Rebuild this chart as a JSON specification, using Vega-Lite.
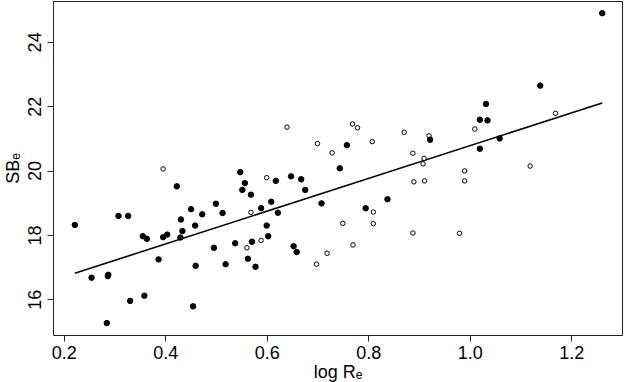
{
  "$schema": "https://vega.github.io/schema/vega-lite/v6.json",
  "width": 569,
  "height": 334,
  "autosize": "none",
  "padding": {"left": 53, "top": 1, "right": 2, "bottom": 47},
  "background": "white",
  "config": {
    "font": "Liberation Sans",
    "view": {"stroke": "#222", "strokeWidth": 1},
    "axis": {
      "grid": false,
      "domain": false,
      "tickColor": "#222",
      "tickSize": 6,
      "labelColor": "black",
      "titleColor": "black",
      "labelFontSize": 18,
      "titleFontSize": 18,
      "titleFontWeight": "normal"
    }
  },
  "datasets": {
    "pts": [
      {"logR": 0.222, "SB": 18.31, "type": "filled"},
      {"logR": 0.255, "SB": 16.67, "type": "filled"},
      {"logR": 0.287, "SB": 16.72, "type": "filled"},
      {"logR": 0.288, "SB": 16.76, "type": "filled"},
      {"logR": 0.285, "SB": 15.26, "type": "filled"},
      {"logR": 0.308, "SB": 18.59, "type": "filled"},
      {"logR": 0.327, "SB": 18.59, "type": "filled"},
      {"logR": 0.331, "SB": 15.95, "type": "filled"},
      {"logR": 0.356, "SB": 17.96, "type": "filled"},
      {"logR": 0.364, "SB": 17.88, "type": "filled"},
      {"logR": 0.359, "SB": 16.11, "type": "filled"},
      {"logR": 0.387, "SB": 17.24, "type": "filled"},
      {"logR": 0.396, "SB": 17.93, "type": "filled"},
      {"logR": 0.404, "SB": 18.01, "type": "filled"},
      {"logR": 0.396, "SB": 20.05, "type": "open"},
      {"logR": 0.423, "SB": 19.51, "type": "filled"},
      {"logR": 0.431, "SB": 18.48, "type": "filled"},
      {"logR": 0.430, "SB": 17.92, "type": "filled"},
      {"logR": 0.434, "SB": 18.12, "type": "filled"},
      {"logR": 0.451, "SB": 18.80, "type": "filled"},
      {"logR": 0.459, "SB": 18.29, "type": "filled"},
      {"logR": 0.460, "SB": 17.04, "type": "filled"},
      {"logR": 0.455, "SB": 15.78, "type": "filled"},
      {"logR": 0.473, "SB": 18.64, "type": "filled"},
      {"logR": 0.496, "SB": 17.60, "type": "filled"},
      {"logR": 0.500, "SB": 18.97, "type": "filled"},
      {"logR": 0.513, "SB": 18.68, "type": "filled"},
      {"logR": 0.519, "SB": 17.09, "type": "filled"},
      {"logR": 0.538, "SB": 17.74, "type": "filled"},
      {"logR": 0.548, "SB": 19.95, "type": "filled"},
      {"logR": 0.552, "SB": 19.40, "type": "filled"},
      {"logR": 0.557, "SB": 19.61, "type": "filled"},
      {"logR": 0.561, "SB": 17.60, "type": "open"},
      {"logR": 0.563, "SB": 17.26, "type": "filled"},
      {"logR": 0.569, "SB": 19.25, "type": "filled"},
      {"logR": 0.600, "SB": 19.78, "type": "open"},
      {"logR": 0.618, "SB": 19.68, "type": "filled"},
      {"logR": 0.569, "SB": 18.70, "type": "open"},
      {"logR": 0.589, "SB": 18.83, "type": "filled"},
      {"logR": 0.609, "SB": 19.03, "type": "filled"},
      {"logR": 0.622, "SB": 18.69, "type": "filled"},
      {"logR": 0.648, "SB": 19.82, "type": "filled"},
      {"logR": 0.668, "SB": 19.73, "type": "filled"},
      {"logR": 0.676, "SB": 19.40, "type": "filled"},
      {"logR": 0.640, "SB": 21.35, "type": "open"},
      {"logR": 0.700, "SB": 20.84, "type": "open"},
      {"logR": 0.729, "SB": 20.55, "type": "open"},
      {"logR": 0.758, "SB": 20.79, "type": "filled"},
      {"logR": 0.744, "SB": 20.07, "type": "filled"},
      {"logR": 0.708, "SB": 18.98, "type": "filled"},
      {"logR": 0.769, "SB": 21.45, "type": "open"},
      {"logR": 0.779, "SB": 21.33, "type": "open"},
      {"logR": 0.808, "SB": 20.90, "type": "open"},
      {"logR": 0.871, "SB": 21.19, "type": "open"},
      {"logR": 0.920, "SB": 21.08, "type": "open"},
      {"logR": 0.922, "SB": 20.96, "type": "filled"},
      {"logR": 0.888, "SB": 20.54, "type": "open"},
      {"logR": 0.910, "SB": 20.38, "type": "open"},
      {"logR": 0.908, "SB": 20.21, "type": "open"},
      {"logR": 0.890, "SB": 19.65, "type": "open"},
      {"logR": 0.911, "SB": 19.68, "type": "open"},
      {"logR": 0.838, "SB": 19.11, "type": "filled"},
      {"logR": 0.795, "SB": 18.83, "type": "filled"},
      {"logR": 0.810, "SB": 18.71, "type": "open"},
      {"logR": 0.810, "SB": 18.35, "type": "open"},
      {"logR": 0.750, "SB": 18.36, "type": "open"},
      {"logR": 0.888, "SB": 18.06, "type": "open"},
      {"logR": 0.600, "SB": 18.29, "type": "filled"},
      {"logR": 0.603, "SB": 17.96, "type": "filled"},
      {"logR": 0.571, "SB": 17.79, "type": "filled"},
      {"logR": 0.589, "SB": 17.83, "type": "open"},
      {"logR": 0.578, "SB": 17.01, "type": "filled"},
      {"logR": 0.653, "SB": 17.65, "type": "filled"},
      {"logR": 0.659, "SB": 17.47, "type": "filled"},
      {"logR": 0.698, "SB": 17.09, "type": "open"},
      {"logR": 0.719, "SB": 17.43, "type": "open"},
      {"logR": 0.770, "SB": 17.69, "type": "open"},
      {"logR": 1.261, "SB": 24.89, "type": "filled"},
      {"logR": 1.139, "SB": 22.64, "type": "filled"},
      {"logR": 1.169, "SB": 21.78, "type": "open"},
      {"logR": 1.032, "SB": 22.07, "type": "filled"},
      {"logR": 1.020, "SB": 21.58, "type": "filled"},
      {"logR": 1.035, "SB": 21.56, "type": "filled"},
      {"logR": 1.010, "SB": 21.29, "type": "open"},
      {"logR": 1.059, "SB": 21.00, "type": "filled"},
      {"logR": 1.020, "SB": 20.68, "type": "filled"},
      {"logR": 0.990, "SB": 19.99, "type": "open"},
      {"logR": 0.990, "SB": 19.68, "type": "open"},
      {"logR": 1.119, "SB": 20.14, "type": "open"},
      {"logR": 0.980, "SB": 18.05, "type": "open"}
    ],
    "fit": [
      {"logR": 0.222, "SB": 16.81},
      {"logR": 1.261, "SB": 22.10}
    ]
  },
  "layer": [
    {
      "data": {"name": "fit"},
      "mark": {"type": "line", "color": "black", "strokeWidth": 1.6, "clip": true},
      "encoding": {
        "x": {"field": "logR", "type": "quantitative"},
        "y": {"field": "SB", "type": "quantitative"}
      }
    },
    {
      "data": {"name": "pts"},
      "mark": {"type": "point", "shape": "circle", "filled": false, "stroke": "black", "strokeWidth": 1, "opacity": 1},
      "encoding": {
        "x": {
          "field": "logR", "type": "quantitative",
          "scale": {"domain": [0.179, 1.300], "nice": false, "zero": false},
          "axis": {"values": [0.2, 0.4, 0.6, 0.8, 1.0, 1.2], "format": ".1f", "title": "log Rₑ", "labelPadding": 3, "titlePadding": 1}
        },
        "y": {
          "field": "SB", "type": "quantitative",
          "scale": {"domain": [14.89, 25.27], "nice": false, "zero": false},
          "axis": {"values": [16, 18, 20, 22, 24], "title": "SBₑ", "labelAngle": -90, "labelAlign": "center", "labelBaseline": "bottom", "labelPadding": 3, "titlePadding": 4}
        },
        "fill": {
          "field": "type", "type": "nominal",
          "scale": {"domain": ["filled", "open"], "range": ["black", "white"]},
          "legend": null
        },
        "size": {
          "field": "type", "type": "nominal",
          "scale": {"domain": ["filled", "open"], "range": [30, 20]},
          "legend": null
        }
      }
    }
  ]
}
